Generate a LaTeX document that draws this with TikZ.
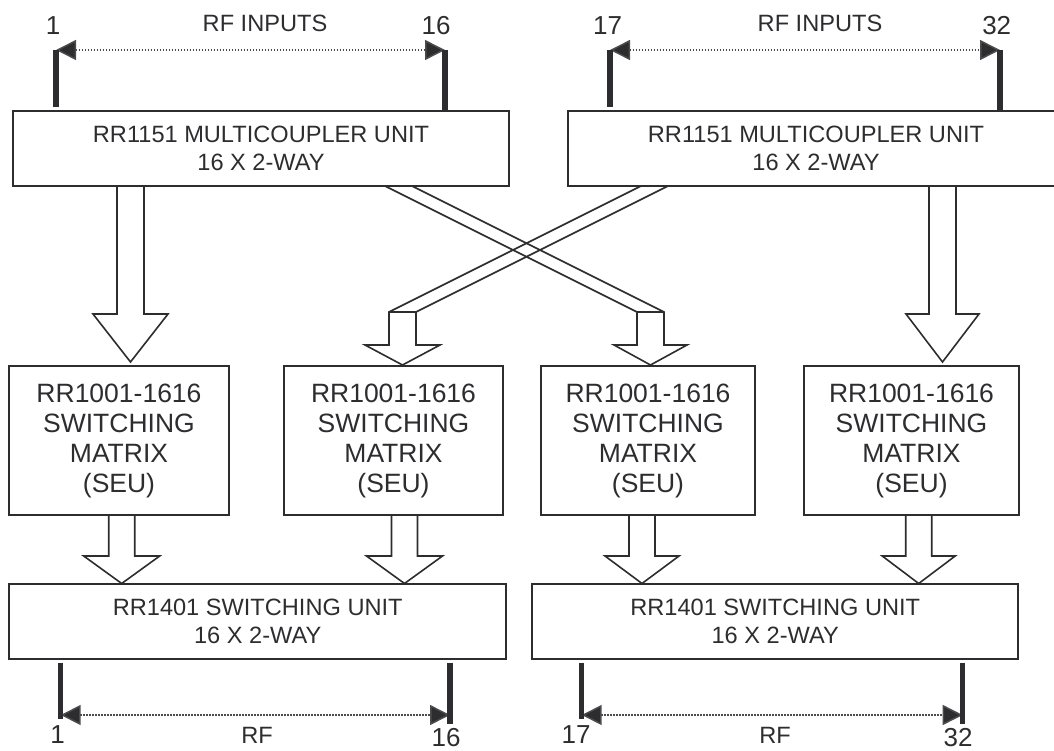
\documentclass[tikz,border=0pt]{standalone}
\usepackage{fontspec}
\setmainfont{Liberation Sans}
\usetikzlibrary{arrows.meta,backgrounds}
\definecolor{ink}{RGB}{45,45,48}
\newcommand\blockarrow[6]{%
  \draw[blk] (#1-#5,#2) -- (#1-#5,#3) -- (#1-#6,#3) -- (#1,#4) -- (#1+#6,#3) -- (#1+#5,#3) -- (#1+#5,#2);}
\begin{document}
\begin{tikzpicture}[x=1pt,y=-1pt,
  box/.style={draw=ink, line width=1.8pt, inner sep=0pt, align=center, text=ink,
    font=\fontsize{23.6}{27.5}\selectfont},
  mbox/.style={box, font=\fontsize{26.5}{30}\selectfont},
  blk/.style={draw=ink, line width=1.6pt, line join=miter},
  pin/.style={draw=ink, line width=5.5pt},
  rf/.style={draw=ink!85, line width=1.5pt, dash pattern=on 1.2pt off 1.8pt,
    {Triangle[length=20pt,width=20pt,fill=ink]}-{Triangle[length=20pt,width=20pt,fill=ink]}},
  num/.style={text=ink, font=\fontsize{26}{26}\selectfont, anchor=base, inner sep=0pt},
  lab/.style={text=ink, font=\fontsize{23.6}{26}\selectfont, anchor=base, inner sep=0pt}]
\path[use as bounding box] (0,0) rectangle (1054,751);
\clip (0,0) rectangle (1054,751);

% units
\node[box, minimum width=496pt, minimum height=75pt] (mcL) at (261,148.5) {RR1151 MULTICOUPLER UNIT\\16 X 2-WAY};
\node[box, minimum width=496pt, minimum height=75pt] (mcR) at (816,148.5) {RR1151 MULTICOUPLER UNIT\\16 X 2-WAY};
\node[mbox, minimum width=220pt, minimum height=149pt] (m1) at (119,440.5) {RR1001-1616\\SWITCHING\\MATRIX\\(SEU)};
\node[mbox, minimum width=219pt, minimum height=149pt] (m2) at (393.5,440.5) {RR1001-1616\\SWITCHING\\MATRIX\\(SEU)};
\node[mbox, minimum width=214.6pt, minimum height=149pt] (m3) at (648,440.5) {RR1001-1616\\SWITCHING\\MATRIX\\(SEU)};
\node[mbox, minimum width=215pt, minimum height=149pt] (m4) at (911.5,440.5) {RR1001-1616\\SWITCHING\\MATRIX\\(SEU)};
\node[box, minimum width=496.7pt, minimum height=75pt] (suL) at (257.7,621.5) {RR1401 SWITCHING UNIT\\16 X 2-WAY};
\node[box, minimum width=486.3pt, minimum height=75pt] (suR) at (775.2,621.5) {RR1401 SWITCHING UNIT\\16 X 2-WAY};

% block arrows
\begin{scope}[on background layer]
\blockarrow{130.5}{186}{314}{362}{13.5}{37.5}
\blockarrow{942.5}{186}{314}{362}{13.5}{36.5}
\blockarrow{121.7}{515}{556}{583.5}{13}{38}
\blockarrow{404.5}{515}{556}{583.5}{13}{38}
\blockarrow{642}{515}{556}{583.5}{13}{37}
\blockarrow{918.7}{515}{556}{583.5}{13}{36.5}
% crossed arrows
\draw[blk] (385,186) -- (637,312) -- (637,345) -- (614,345) -- (650.5,365) -- (687,345) -- (664,345) -- (664,312) -- (412,186);
\draw[blk] (637,312) -- (664,312);
\draw[blk] (668,186) -- (416,312) -- (416,345) -- (440,345) -- (402.5,365) -- (365,345) -- (389,345) -- (389,312) -- (641,186);
\draw[blk] (389,312) -- (416,312);
\end{scope}

% input / output ranges
\coordinate (iL1) at (56,50);  \coordinate (iL16) at (445,50);
\coordinate (iR17) at (610,50); \coordinate (iR32) at (1000,50);
\coordinate (oL1) at (60.7,715); \coordinate (oL16) at (450,715);
\coordinate (oR17) at (581.7,715); \coordinate (oR32) at (962.7,715);

\draw[rf] (iL1) -- (iL16);
\draw[rf] (iR17) -- (iR32);
\draw[rf] (oL1) -- (oL16);
\draw[rf] (oR17) -- (oR32);

\draw[pin] (iL1) -- ([yshift=3pt]iL1 |- mcL.north);
\draw[pin] (iL16) -- ([yshift=-2pt]iL16 |- mcL.north);
\draw[pin] (iR17) -- ([yshift=3pt]iR17 |- mcR.north);
\draw[pin] (iR32) -- ([yshift=-2pt]iR32 |- mcR.north);
\draw[pin] ([yshift=-3pt]oL1 |- suL.south) -- ([yshift=-4pt]oL1);
\draw[pin] ([yshift=-3pt]oL16 |- suL.south) -- ([yshift=-9pt]oL16);
\draw[pin] ([yshift=-3pt]oR17 |- suR.south) -- ([yshift=-4pt]oR17);
\draw[pin] ([yshift=-3pt]oR32 |- suR.south) -- ([yshift=-9pt]oR32);

% labels
\node[num] (l1) at (53,35) {1};
\node[lab] (lin1) at (265,32) {RF INPUTS};
\node[num] (l16) at (436,35) {16};
\node[num] (l17) at (607.5,35) {17};
\node[lab] (lin2) at (820,32) {RF INPUTS};
\node[num] (l32) at (996.7,35) {32};
\node[num] (b1) at (57.5,743) {1};
\node[lab] (brf1) at (257,743) {RF};
\node[num] (b16) at (446,746.5) {16};
\node[num] (b17) at (576,743) {17};
\node[lab] (brf2) at (775,743) {RF};
\node[num] (b32) at (958,746.5) {32};
\end{tikzpicture}
\end{document}
